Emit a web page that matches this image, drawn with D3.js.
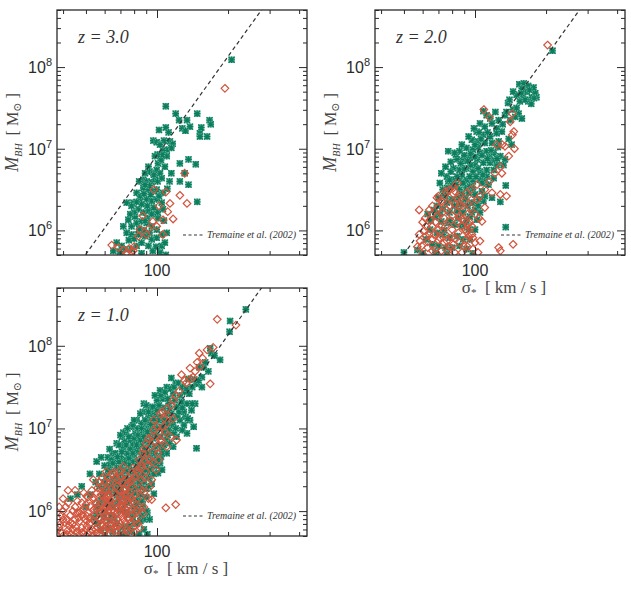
<!DOCTYPE html>
<html>
<head>
<meta charset="utf-8">
<script src="https://cdn.jsdelivr.net/npm/d3@7"></script>
<style>
  body { margin: 0; background: #fff; }
</style>
</head>
<body>
<div id="chart"></div>
<script>
// axis ranges and ticks
var sigmaDomain = [37.7, 432];
var massDomain = [5e5, 5e8];
var sigmaMajor = [100];
var sigmaMinor = [40, 50, 60, 70, 80, 90, 200, 300, 400];
var massMajor = [1e6, 1e7, 1e8];
var redshiftLabels = ["z = 3.0", "z = 2.0", "z = 1.0"];
var fitLabel = "Tremaine et al. (2002)";
var fitNorm = 1.35e8, fitPivot = 200, fitSlope = 4.02;

// points: [sigma (km/s), log10 M_BH]
var z3Green = [[207,8.09],[109,7.52],[120,7.43],[124,7.35],[134,7.35],[148,7.43],[138,7.27],[154,7.26],[128,7.25],[132,7.22],[167,7.35],[169,7.30],[152,7.19],[152,7.15],[163,7.15],[109,7.26],[102,7.23],[96.5,7.10],[99.7,7.08],[113.5,7.09],[116.5,7.06],[110,6.99],[106,6.98],[115,7.01],[110,6.91],[105,6.93],[100.6,6.93],[98,6.91],[125,6.82],[136,6.87],[146,6.81],[115,6.70],[131,6.70],[125,6.60],[136,6.56],[148,6.35],[110.6,6.51],[92,6.78],[93,6.72],[96.5,6.70],[99.7,6.74],[103,6.70],[87.5,6.62],[90.4,6.60],[95,6.59],[98,6.62],[100.6,6.60],[104.7,6.64],[84,6.60],[87.5,6.52],[92,6.50],[96.5,6.48],[99.7,6.50],[106,6.46],[82,6.46],[84.7,6.38],[90.4,6.38],[95,6.36],[99.7,6.38],[104.7,6.34],[79.4,6.34],[74.4,6.34],[78,6.30],[83.4,6.26],[87.5,6.22],[92,6.24],[96.5,6.20],[100.6,6.22],[106,6.26],[80.7,6.17],[75.6,6.13],[72,6.05],[78,6.05],[82,6.09],[86,6.11],[90.4,6.09],[95,6.05],[99.7,6.01],[104.7,5.95],[110,5.97],[74.4,5.97],[78,5.95],[83.4,5.95],[89,5.93],[95,5.89],[99.7,5.91],[104.7,5.81],[67.5,5.85],[70.8,5.81],[73.2,5.77],[78,5.77],[82,5.81],[86,5.85],[92,5.81],[96,5.75],[103,5.73],[65.3,5.75],[69.7,5.74],[109,5.70],[89,6.70],[94,6.44],[86,6.32],[91,6.15],[97,6.28],[88,6.00],[80,6.22],[101,6.15],[93,5.97],[85,6.42],[102,6.42],[107,6.12],[76,5.88],[113,6.60],[88,6.45],[93,6.55],[97,6.68],[101,6.82],[104,6.86],[108,6.78],[91,6.30],[95,6.20],[89,6.12],[84,6.02],[80,5.90],[86,5.72],[99,5.80],[108,5.85],[77,6.20],[82,6.35],[89,6.56],[107,7.10],[112,7.20],[103,7.05]];
var z3Red = [[194,7.74],[131,6.70],[125,6.43],[134,6.33],[113.5,6.33],[109,6.47],[111,6.23],[117,6.14],[106,6.13],[106,5.95],[99.7,6.05],[96,6.11],[92,6.02],[83.4,5.93],[64.3,5.82],[68.6,5.79],[76.3,5.78],[79.4,5.75],[84.7,6.01],[90.4,5.95],[78,5.74],[74.4,5.73],[72,5.76],[80,5.80],[87,6.18],[102,6.30],[97,6.50]];

var z2Green = [[213,8.20],[154,7.79],[161,7.80],[168,7.77],[177,7.75],[158,7.74],[166,7.70],[180,7.68],[150,7.66],[160,7.64],[174,7.63],[155,7.58],[168,7.58],[182,7.63],[138,7.56],[145,7.48],[153,7.43],[134,7.41],[148,7.39],[158,7.37],[141,7.35],[108.5,7.46],[112,7.41],[116,7.37],[105,7.31],[110,7.27],[118,7.31],[123.5,7.25],[101.6,7.21],[108.5,7.17],[116,7.15],[123.5,7.19],[130,7.21],[97,7.11],[103,7.09],[110,7.07],[118,7.07],[126,7.09],[77,6.97],[86,6.97],[92,7.01],[98,6.99],[105,6.95],[112,6.97],[120,6.95],[128,6.91],[134,6.87],[84,6.87],[89,6.85],[95,6.89],[102,6.87],[108.5,6.83],[116,6.83],[123.5,6.80],[132,6.80],[81,6.76],[86,6.74],[92,6.76],[98,6.72],[105,6.72],[112,6.74],[120,6.74],[76,6.66],[81,6.62],[86,6.64],[92,6.62],[98,6.60],[105,6.62],[112,6.66],[120,6.64],[71,6.58],[76,6.52],[81,6.54],[86,6.50],[92,6.52],[98,6.50],[107,6.48],[75,6.42],[80,6.38],[85,6.40],[91,6.38],[97,6.34],[103,6.30],[108.5,6.36],[69,6.30],[73,6.26],[78,6.22],[84,6.24],[89,6.22],[95,6.17],[102,6.13],[105,6.22],[68,6.17],[72,6.11],[77,6.09],[82,6.07],[88,6.05],[94,6.01],[100,6.01],[64.5,6.01],[69,5.97],[73,5.95],[78,5.91],[84,5.93],[89,5.89],[95,5.89],[62,5.89],[66,5.83],[70,5.81],[75,5.79],[80,5.79],[86,5.81],[92,5.77],[98,5.72],[50,5.73],[57,5.76],[60,5.72],[68,5.73],[76,5.71],[135,6.04],[83,6.93],[88,6.68],[95,6.66],[100,6.80],[103,7.02],[96,6.80],[90,6.92],[79,6.72],[74,6.45],[100,6.44],[94,6.46],[110,6.60],[115,6.90],[125,7.02],[121,6.86],[139,7.12],[143,7.05],[135,6.55],[118,6.40],[128,6.35],[140,7.60],[145,7.70],[150,7.50],[157,7.68],[163,7.60],[170,7.72],[173,7.55],[178,7.62],[126,7.35],[131,7.30],[136,7.45],[122,7.45],[113,7.20],[106,7.12],[100,7.05],[96,6.94],[93,6.85],[90,6.75],[87,6.82],[84,6.66],[80,6.58],[77,6.60],[73,6.50],[70,6.40],[67,6.25],[65,6.12],[63,6.20],[100,6.90],[107,6.92],[113,6.88],[117,6.98],[124,6.88],[103,6.76],[108,6.68],[114,6.56],[97,6.55],[93,6.30],[88,6.45],[82,6.30],[78,6.12],[74,6.00],[85,6.15],[90,6.07],[100,6.25],[104,6.38],[110,6.42],[79,6.84],[82,6.95],[88,7.05],[94,7.15],[99,7.25],[104,7.20],[72,6.70],[75,6.78],[78,6.62],[83,6.56],[89,6.58],[95,6.54],[101,6.66],[107,6.58],[71,6.20],[76,6.34],[87,6.32],[92,6.12],[97,6.22]];
var z2Red = [[203,8.27],[109,7.48],[115,7.39],[144,7.43],[141,7.33],[146,7.21],[144,7.17],[134,7.03],[139,6.91],[147,7.00],[130.5,7.05],[123.5,7.05],[128,6.78],[121.5,6.70],[130,6.70],[115,6.60],[128,6.44],[136,6.42],[118,6.46],[110,6.50],[102,6.56],[105,6.42],[102,6.38],[97,6.38],[92,6.46],[107,6.11],[105,5.87],[126,5.79],[128,5.75],[145,5.83],[98,5.77],[103,5.73],[70,6.42],[76,6.46],[82,6.48],[86,6.42],[89,6.30],[84,6.22],[78,6.30],[73,6.22],[69,6.17],[64.5,6.13],[61.5,6.15],[66,6.05],[70,6.01],[75,6.05],[80,6.01],[85,5.97],[91,6.01],[97,6.05],[62,5.93],[66,5.89],[71,5.91],[76,5.87],[81,5.83],[86,5.85],[92,5.89],[98,5.91],[59.5,5.81],[63,5.79],[68,5.77],[72,5.75],[77,5.75],[82,5.73],[88,5.73],[60,5.71],[58.5,5.87],[73,6.35],[79,6.12],[84,6.10],[88,6.14],[93,6.20],[95,6.10],[67,5.95],[75,5.95],[82,5.90],[90,5.80],[100,5.85],[94,5.93],[78,6.50],[66,6.30],[84,6.58],[96,6.50],[110,6.28],[104,6.15],[58,6.25],[62,6.05],[64,5.95],[66,6.20],[68,6.10],[70,6.28],[72,6.05],[74,6.15],[76,6.25],[78,6.40],[80,6.18],[82,6.32],[84,6.40],[86,6.30],[88,6.05],[90,6.12],[92,5.98],[94,6.08],[74,5.85],[78,5.80],[80,5.92],[70,5.88],[66,5.75],[63,5.86],[61,6.00],[72,6.36],[75,6.48],[81,6.52],[69,6.40],[64,6.25],[60,6.10],[86,6.18],[90,6.35],[96,6.28],[58,5.95],[57,5.80],[100,6.20],[93,5.80],[97,5.95]];

var z1Green = [[238,8.44],[204,8.30],[203,8.17],[185,7.83],[168,7.97],[170,7.91],[151,7.74],[158,7.74],[165,7.69],[155,7.62],[144,7.59],[147,7.54],[115,7.61],[103,7.46],[110,7.50],[117,7.42],[125,7.40],[131,7.44],[100,7.34],[106,7.36],[112,7.30],[119,7.34],[130,7.20],[143,7.02],[130,7.04],[117,7.04],[147,6.76],[93,7.26],[87,7.20],[92,7.14],[98,7.18],[103,7.14],[110,7.18],[82,7.10],[86,7.06],[92,7.02],[98,7.06],[105,7.02],[112,6.98],[78,7.02],[74,6.96],[81,6.94],[85,6.96],[90,6.92],[97,6.90],[103,6.90],[110,6.86],[71,6.90],[77,6.86],[81,6.84],[86,6.82],[92,6.80],[98,6.78],[105,6.76],[67.5,6.82],[72,6.78],[78,6.74],[82,6.72],[87,6.70],[93,6.68],[100,6.66],[65,6.70],[70,6.66],[74,6.62],[79,6.60],[85,6.58],[90,6.56],[97,6.54],[55.5,6.60],[63,6.56],[67.5,6.52],[72,6.50],[77,6.48],[82,6.46],[87,6.44],[93,6.42],[61,6.42],[65,6.38],[70,6.35],[74,6.33],[79,6.31],[85,6.29],[90,6.27],[97,6.21],[59.5,6.27],[63,6.23],[67.5,6.19],[72,6.17],[77,6.15],[82,6.13],[43,6.15],[58,6.13],[61,6.09],[65,6.05],[70,6.01],[74,5.99],[79,5.97],[55.5,5.97],[59.5,5.93],[63,5.89],[67.5,5.85],[72,5.81],[77,5.79],[65,5.75],[70,5.73],[74,5.72],[58,5.77],[121,7.26],[134,7.30],[140,7.22],[132,7.14],[125,7.10],[115,7.18],[110,7.06],[134,6.94],[121,6.90],[117,6.78],[110,6.70],[103,6.58],[101,6.46],[95,6.33],[90,6.17],[95,7.10],[89,7.00],[84,6.88],[79,6.80],[75,6.70],[69,6.60],[64,6.48],[60,6.35],[95,6.95],[100,7.00],[107,7.10],[113,7.24],[96,6.62],[89,6.62],[84,6.50],[76,6.56],[71,6.40],[68,6.28],[76,6.24],[88,6.35],[80,6.05],[85,6.20],[93,6.50],[102,6.80],[108,6.95],[122,7.15],[127,7.32],[137,7.42],[141,7.50],[150,7.58],[160,7.80],[175,7.88],[120,7.55],[106,7.25],[98,7.40],[88,7.30],[83,7.00],[72,6.95],[62,6.65],[57,6.45],[52,6.20],[50,6.05],[66,5.92],[80,5.85],[86,5.95],[62,5.80],[56,5.85],[68,6.10],[75,6.10],[57,6.30],[105,6.50],[92,6.30],[100,6.55],[113,6.82],[118,6.95],[128,6.98],[138,7.10],[145,7.30],[155,7.50],[60,6.55],[64,6.62],[66.5,6.70],[69,6.80],[73,6.84],[76,6.90],[79,7.04],[80,6.68],[83,6.78],[86,6.90],[88,6.98],[91,7.08],[94,7.18],[96,7.26],[100,7.22],[102,7.28],[104,7.40],[108,7.44],[111,7.36],[114,7.48],[118,7.50],[123,7.55],[128,7.50],[133,7.48],[136,7.60],[101,7.10],[96,7.02],[93,6.92],[88,6.85],[83,6.60],[78,6.50],[74,6.48],[70,6.45],[66,6.35],[62,6.30],[59,6.20],[56,6.05],[54,5.92],[60,6.00],[63,6.12],[67,6.22],[72,6.32],[76,6.38],[81,6.40],[85,6.40],[89,6.50],[92,6.60],[95,6.72],[98,6.70],[104,6.66],[107,6.80],[111,6.92],[116,7.10],[120,7.00],[124,7.20],[128,7.25],[135,7.12],[141,7.30],[87,6.08],[84,6.00],[82,5.85],[78,5.75],[84,5.72],[88,5.90],[91,5.98],[76,5.96],[73,6.08],[69,6.12],[80,6.22],[84,6.34],[92,6.40],[97,6.45],[60,5.70],[64,5.95],[57,6.10],[55,6.35],[52,6.45],[48,6.30],[46,6.20],[70,6.92],[75,7.00],[80,7.10],[85,7.18],[90,7.28],[63,6.75],[58,6.65],[62,6.50],[65,6.58],[68,6.66],[71,6.72],[74,6.80],[77,6.75],[80,6.88],[83,6.92],[86,7.00],[89,7.10],[92,7.20],[67,6.42],[70,6.52],[73,6.58],[76,6.64],[79,6.70],[82,6.80],[85,6.86],[88,6.90],[91,6.96],[94,7.05],[97,7.12],[64,6.30],[67,6.34],[70,6.26],[73,6.40],[77,6.30],[80,6.48],[83,6.54],[86,6.66],[89,6.76],[93,6.84],[96,6.88],[99,6.92],[75,6.18],[78,6.36],[81,6.28],[87,6.56],[91,6.70],[94,6.60],[98,6.58],[101,6.62],[105,6.70],[86,6.12],[90,6.00],[93,5.90],[88,5.78],[91,5.72],[85,5.88],[82,6.08],[79,5.92],[76,5.82],[72,5.70]];
var z1Red = [[180,8.32],[216,8.25],[151,7.91],[173,7.98],[152,7.75],[168,7.54],[138,7.73],[127,7.65],[139,7.60],[145,7.69],[131,7.58],[117,7.34],[110,7.24],[100,7.02],[95,6.90],[108,6.96],[90,6.82],[100,6.76],[87,6.70],[93,6.62],[86,6.56],[82,6.50],[90,6.48],[95,6.38],[86,6.38],[79,6.38],[93,6.29],[95,6.14],[87.5,5.97],[76,5.90],[109,6.04],[120,6.08],[103,6.86],[110,6.78],[101,6.70],[110,7.06],[103,7.18],[97,7.10],[114,6.90],[117,7.12],[121,6.86],[38.8,5.84],[41.4,5.89],[44,5.84],[47,5.88],[50.4,5.82],[39.5,5.73],[42,5.77],[45.7,5.75],[49,5.73],[52,5.75],[55.5,5.73],[59.5,5.75],[63,5.73],[67.5,5.75],[47,5.98],[50.4,5.94],[53.7,5.89],[58,5.85],[61,5.81],[52,6.06],[55.5,6.02],[59.5,5.98],[63,5.94],[67.5,5.90],[53.7,6.14],[58,6.10],[61,6.06],[65,6.02],[70,5.98],[55.5,6.22],[59.5,6.18],[63,6.14],[67.5,6.10],[72,6.06],[50.4,6.18],[58,6.30],[61,6.26],[65,6.22],[70,6.18],[74,6.14],[63,6.34],[67.5,6.30],[72,6.26],[77,6.22],[53.7,6.38],[70,6.42],[74,6.38],[66,6.48],[72,6.54],[78,6.46],[79,6.12],[74,6.02],[78,5.95],[72,5.90],[77,5.85],[82,6.01],[38.5,5.80],[39,5.76],[40.5,5.86],[40,6.00],[43,5.95],[45,6.05],[48,6.10],[56,5.80],[60,5.88],[64,5.84],[69,5.82],[74,5.78],[80,5.75],[85,5.80],[66,6.00],[71,5.94],[76,6.08],[81,6.20],[84,6.28],[60,6.02],[57,5.92],[62,6.18],[68,6.38],[75,6.32],[79,6.52],[84,6.62],[88,6.75],[92,6.88],[97,6.98],[105,7.20],[88,6.05],[82,5.90],[44,5.78],[46.5,5.92],[49,6.02],[52,5.85],[55,6.10],[58,6.20],[62,6.40],[61,6.15],[51,6.17],[39.5,5.95],[41,6.05],[42.5,5.82],[44.5,5.70],[46,5.98],[48,5.80],[49.5,5.90],[51,5.98],[53,5.78],[54.5,5.95],[56,6.05],[57.5,5.72],[59,6.12],[60.5,5.94],[62,6.00],[63.5,6.08],[64.5,5.78],[66,6.16],[67,5.96],[68.5,6.05],[69.5,6.24],[71,6.12],[72.5,6.00],[73.5,5.86],[75,6.20],[76.5,6.00],[78,6.30],[80,6.10],[81.5,5.98],[83,6.15],[85,6.05],[86.5,6.25],[89,6.40],[91,6.55],[56,6.28],[54,6.16],[50,6.08],[47.5,6.00],[45,5.90],[43,5.86],[41.5,5.72],[58.5,6.40],[61,6.48],[64,6.26],[66.5,6.40],[69,6.48],[71.5,6.34],[73,6.44],[76,6.40],[80.5,6.42],[83,6.46],[85.5,6.52],[88.5,6.60],[90.5,6.70],[94,6.78],[98,6.85],[102,6.95],[106,7.02],[108,7.12],[112,7.15],[115,7.28],[120,7.40],[124,7.45],[133,7.55],[142,7.62],[148,7.80],[156,7.85],[163,7.95],[96,6.60],[99,6.50],[92,6.15],[88,6.22],[102,6.62],[105,6.85],[60,5.78],[65,5.90],[70,5.85],[73,5.72],[68,5.70],[75,5.92],[79,5.80],[83,5.85],[48,5.74],[53,5.70],[57,5.98],[62,5.88],[66,5.80],[71,6.05],[45.5,5.80],[50.5,5.88],[55,5.86],[59.5,6.05],[64,6.12],[68,6.20],[74,6.26],[78,6.16],[40,5.90],[42,6.10],[44,6.00],[46,6.12],[48,5.95],[50,5.78],[52,5.92],[54,6.02],[56,5.74],[58,5.90],[60,6.22],[62,6.10],[64,6.00],[66,5.86],[68,5.98],[70,6.08],[72,6.14],[74,5.96],[76,6.12],[78,6.02],[41,5.70],[43,5.72],[47,5.72],[51,5.72],[55,5.78],[59,5.82],[63,5.78],[67,5.82],[71,5.78],[75,5.74],[53,6.25],[57,6.35],[61,6.35],[65,6.45],[69,6.32],[73,6.20],[77,6.35],[45,6.25],[49,6.22],[38.5,6.05],[40,6.15],[42,6.25]];

var panels = [
    {left: 57, top: 10, w: 250, h: 245, label: redshiftLabels[0], green: z3Green, red: z3Red, xTitle: false},
    {left: 375, top: 10, w: 250, h: 245, label: redshiftLabels[1], green: z2Green, red: z2Red, xTitle: true},
    {left: 57, top: 288, w: 250, h: 248, label: redshiftLabels[2], green: z1Green, red: z1Red, xTitle: true}
];

var sans = "'Liberation Sans', Arial, Helvetica, sans-serif";
var serif = "'Liberation Serif', 'Times New Roman', 'DejaVu Serif', serif";
var ink = "#2a2a2a";

var massMinor = [];
[5, 6, 7, 8].forEach(function(e) {
    for (var k = 2; k <= 9; k++) {
        var v = k * Math.pow(10, e);
        if (v >= massDomain[0] && v <= massDomain[1]) massMinor.push(v);
    }
});

var svg = d3.select("#chart")
    .append("svg")
    .attr("width", 631)
    .attr("height", 601);

panels.forEach(function(p, i) {
    var x = d3.scaleLog().domain(sigmaDomain).range([0, p.w]);
    var y = d3.scaleLog().domain(massDomain).range([p.h, 0]);

    var g = svg.append("g")
        .attr("transform", "translate(" + p.left + "," + p.top + ")");

    g.append("clipPath").attr("id", "clip" + i)
        .append("rect").attr("width", p.w).attr("height", p.h);

    var plot = g.append("g").attr("clip-path", "url(#clip" + i + ")");

    // green asterisks
    var gm = plot.selectAll(".gm")
        .data(p.green)
        .enter().append("g")
        .attr("class", "gm")
        .attr("transform", function(d) { return "translate(" + x(d[0]) + "," + y(Math.pow(10, d[1])) + ")"; });
    gm.append("rect")
        .attr("x", -3.2).attr("y", -3.2).attr("width", 6.4).attr("height", 6.4)
        .style("fill", "#62b499");
    gm.append("path")
        .attr("d", "M-3,-3L3,3M-3,3L3,-3M0,-3.3V3.3M-3.3,0H3.3")
        .style("stroke", "#0c7d5e")
        .style("stroke-width", 1.2)
        .style("fill", "none");

    // red diamonds
    plot.selectAll(".rm")
        .data(p.red)
        .enter().append("path")
        .attr("class", "rm")
        .attr("transform", function(d) { return "translate(" + x(d[0]) + "," + y(Math.pow(10, d[1])) + ")"; })
        .attr("d", "M0,-3.8L3.8,0L0,3.8L-3.8,0Z")
        .style("fill", "none")
        .style("stroke", "#d2553e")
        .style("stroke-width", 1.2);

    // Tremaine relation
    var fit = d3.line()
        .x(function(s) { return x(s); })
        .y(function(s) { return y(fitNorm * Math.pow(s / fitPivot, fitSlope)); });
    plot.append("path")
        .datum(sigmaDomain)
        .attr("d", fit)
        .style("fill", "none")
        .style("stroke", "#333")
        .style("stroke-width", 1.2)
        .style("stroke-dasharray", "4,3");

    // ticks on all four sides, pointing inward
    function ticks(axis, transform) {
        g.append("g").attr("transform", transform || null).call(axis)
            .call(function(s) { s.select(".domain").remove(); s.selectAll("line").style("stroke", ink).style("stroke-width", 1); s.selectAll("text").remove(); });
    }
    ticks(d3.axisBottom(x).tickValues(sigmaMajor).tickSize(-8), "translate(0," + p.h + ")");
    ticks(d3.axisBottom(x).tickValues(sigmaMinor).tickSize(-4), "translate(0," + p.h + ")");
    ticks(d3.axisTop(x).tickValues(sigmaMajor).tickSize(-8));
    ticks(d3.axisTop(x).tickValues(sigmaMinor).tickSize(-4));
    ticks(d3.axisLeft(y).tickValues(massMajor).tickSize(-8));
    ticks(d3.axisLeft(y).tickValues(massMinor).tickSize(-4));
    ticks(d3.axisRight(y).tickValues(massMajor).tickSize(-8), "translate(" + p.w + ",0)");
    ticks(d3.axisRight(y).tickValues(massMinor).tickSize(-4), "translate(" + p.w + ",0)");

    g.append("rect")
        .attr("width", p.w).attr("height", p.h)
        .style("fill", "none")
        .style("stroke", ink)
        .style("stroke-width", 1.3);

    // tick labels
    var yl = g.selectAll(".ylab").data(massMajor).enter().append("text")
        .attr("x", -5)
        .attr("y", function(d) { return y(d) + 6; })
        .attr("text-anchor", "end")
        .style("font-family", sans)
        .style("font-size", "16px")
        .style("fill", ink);
    yl.append("tspan").text("10");
    yl.append("tspan").attr("dy", -7).style("font-size", "11px")
        .text(function(d) { return Math.round(Math.log10(d)); });

    g.selectAll(".xlab").data(sigmaMajor).enter().append("text")
        .attr("x", function(d) { return x(d); })
        .attr("y", p.h + 21)
        .attr("text-anchor", "middle")
        .style("font-family", sans)
        .style("font-size", "16px")
        .style("fill", ink)
        .text(function(d) { return d; });

    // y title
    var yt = g.append("text")
        .attr("transform", "translate(-39," + (p.h / 2) + ") rotate(-90)")
        .attr("text-anchor", "middle")
        .style("font-family", serif)
        .style("font-size", "18px")
        .style("fill", "#444");
    yt.append("tspan").style("font-style", "italic").text("M");
    yt.append("tspan").style("font-style", "italic").style("font-size", "10px").attr("dy", 4).text("BH");
    yt.append("tspan").attr("dy", -4).style("font-size", "16px").text("\u00a0\u00a0[ M");
    yt.append("tspan").attr("dy", 3).style("font-size", "11px").text("\u2299");
    yt.append("tspan").attr("dy", -3).style("font-size", "16px").text(" ]");

    if (p.xTitle) {
        var xt = g.append("text")
            .attr("x", p.w / 2 + 4)
            .attr("y", p.h + 38)
            .attr("text-anchor", "middle")
            .style("font-family", serif)
            .style("font-size", "17px")
            .style("fill", "#444");
        xt.append("tspan").text("\u03c3");
        xt.append("tspan").attr("dy", 3).style("font-size", "11px").text("*");
        xt.append("tspan").attr("dy", -3).text("\u00a0\u00a0[ km / s ]");
    }

    // redshift label
    g.append("text")
        .attr("x", 21)
        .attr("y", 33)
        .style("font-family", serif)
        .style("font-style", "italic")
        .style("font-size", "18px")
        .style("fill", "#333")
        .text(p.label);

    // legend
    g.append("line")
        .attr("x1", 126).attr("x2", 147)
        .attr("y1", p.h - 20).attr("y2", p.h - 20)
        .style("stroke", "#333")
        .style("stroke-width", 1.1)
        .style("stroke-dasharray", "3,2.5");
    g.append("text")
        .attr("x", 150)
        .attr("y", p.h - 17)
        .style("font-family", serif)
        .style("font-style", "italic")
        .style("font-size", "10px")
        .style("fill", "#333")
        .text(fitLabel);
});
</script>
</body>
</html>
